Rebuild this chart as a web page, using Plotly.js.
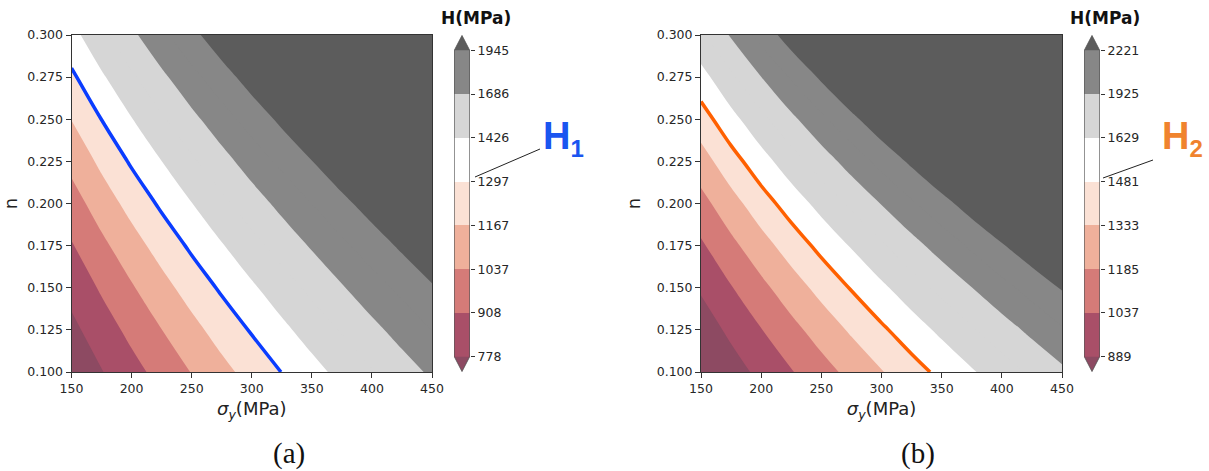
<!DOCTYPE html>
<html>
<head>
<meta charset="utf-8">
<script src="https://cdn.plot.ly/plotly-3.0.1.min.js"></script>
<style>html,body{margin:0;padding:0;background:#fff;}#chart{width:1209px;height:471px;}</style>
</head>
<body>
<div id="chart"></div>
<script>
// ---- data ----
const sigmaY = [150, 175, 200, 225, 250, 275, 300, 325, 350, 375, 400, 425, 450];   // σy (MPa)
const nVals  = [0.100, 0.125, 0.150, 0.175, 0.200, 0.225, 0.250, 0.275, 0.300];
// H1 (MPa), rows = n, columns = σy
const hardnessA = [
  [ 678,  772,  863,  953, 1042, 1129, 1214, 1299, 1382, 1465, 1547, 1628, 1708],
  [ 746,  845,  942, 1036, 1128, 1219, 1308, 1396, 1482, 1567, 1651, 1734, 1817],
  [ 819,  924, 1025, 1124, 1221, 1315, 1407, 1498, 1587, 1675, 1762, 1847, 1932],
  [ 898, 1008, 1115, 1218, 1319, 1417, 1513, 1607, 1699, 1790, 1879, 1967, 2053],
  [ 982, 1099, 1211, 1319, 1423, 1525, 1625, 1722, 1817, 1911, 2002, 2092, 2181],
  [1073, 1195, 1313, 1425, 1535, 1640, 1744, 1844, 1942, 2038, 2133, 2225, 2316],
  [1170, 1298, 1421, 1539, 1652, 1762, 1869, 1973, 2074, 2173, 2270, 2365, 2458],
  [1273, 1408, 1536, 1659, 1777, 1891, 2002, 2109, 2214, 2316, 2415, 2513, 2608],
  [1383, 1524, 1658, 1786, 1909, 2027, 2142, 2253, 2361, 2466, 2568, 2668, 2766]
];
// H2 (MPa)
const hardnessB = [
  [ 719,  824,  927, 1028, 1128, 1227, 1325, 1422, 1518, 1614, 1708, 1802, 1895],
  [ 808,  921, 1032, 1141, 1248, 1353, 1457, 1560, 1661, 1761, 1861, 1959, 2057],
  [ 907, 1029, 1148, 1265, 1379, 1491, 1601, 1710, 1817, 1923, 2027, 2130, 2233],
  [1016, 1148, 1276, 1400, 1522, 1641, 1759, 1874, 1987, 2098, 2208, 2317, 2424],
  [1136, 1278, 1416, 1549, 1679, 1806, 1931, 2053, 2172, 2290, 2406, 2520, 2633],
  [1269, 1422, 1570, 1713, 1851, 1987, 2119, 2248, 2375, 2499, 2622, 2742, 2860],
  [1414, 1580, 1738, 1891, 2040, 2184, 2324, 2462, 2596, 2727, 2856, 2983, 3108],
  [1574, 1752, 1923, 2087, 2245, 2399, 2549, 2694, 2837, 2976, 3113, 3246, 3378],
  [1749, 1941, 2124, 2300, 2470, 2634, 2793, 2948, 3099, 3247, 3392, 3533, 3672]
];
const levelsA = [778, 908, 1037, 1167, 1297, 1426, 1686, 1945];
const levelsB = [889, 1037, 1185, 1333, 1481, 1629, 1925, 2221];
const levelIndex = [0, 1, 2, 3, 4, 5, 7, 9];   // position of each labelled level on the fine grid
const markedIdx = 4;                            // H1 / H2 contour level (1297 / 1481)
const bandColors = ['#8d4a62', '#a94f68', '#d57b78', '#efb09b', '#fbe1d5', '#ffffff',
                    '#d6d6d6', '#d6d6d6', '#878787', '#878787', '#5c5c5c'];
const markColorA = '#0a3cff', markColorB = '#ff6000';
const labelColorA = '#1a55f0', labelColorB = '#f0832e';

// ---- helpers ----
const W = 1209, H = 471;
const px = v => v / W, py = v => 1 - v / H;
const nFine = levelIndex[levelIndex.length - 1];
const colorscale = bandColors.map((c, i) => [i / (bandColors.length - 1), c]);

function contourTraces(z, levels, xa, ya, markColor) {
  const step = (levels[levels.length - 1] - levels[0]) / nFine;
  const mark = levels[0] + levelIndex[markedIdx] * step;
  return [
    {type: 'contour', x: sigmaY, y: nVals, z: z, xaxis: xa, yaxis: ya,
     autocontour: false,
     contours: {start: levels[0], end: levels[levels.length - 1] + step * 0.01, size: step,
                coloring: 'fill', showlines: false},
     colorscale: colorscale, showscale: false, line: {width: 0, smoothing: 1.3}, hoverinfo: 'skip'},
    {type: 'contour', x: sigmaY, y: nVals, z: z, xaxis: xa, yaxis: ya,
     autocontour: false,
     contours: {start: mark, end: mark + step * 0.5, size: step, coloring: 'none', showlines: true},
     line: {color: markColor, width: 3.5, smoothing: 1.3}, showscale: false, hoverinfo: 'skip'}
  ];
}

const EXT = 0.34;
function colorbarTraces(levels, xa, ya) {
  const nSeg = levels.length - 1;
  const segColors = [];
  for (let j = 0; j < nSeg; j++) segColors.push(bandColors[levelIndex[j] + 1]);
  return [
    {type: 'bar', x: new Array(nSeg).fill(0), y: new Array(nSeg).fill(1),
     base: [...Array(nSeg).keys()], width: 1, marker: {color: segColors, line: {width: 0}},
     xaxis: xa, yaxis: ya, hoverinfo: 'skip'},
    {type: 'scatter', mode: 'lines', x: [-0.5, 0, 0.5, -0.5], y: [nSeg, nSeg + EXT, nSeg, nSeg],
     fill: 'toself', fillcolor: bandColors[bandColors.length - 1], line: {width: 0},
     xaxis: xa, yaxis: ya, hoverinfo: 'skip'},
    {type: 'scatter', mode: 'lines', x: [-0.5, 0, 0.5, -0.5], y: [0, -EXT, 0, 0],
     fill: 'toself', fillcolor: bandColors[0], line: {width: 0},
     xaxis: xa, yaxis: ya, hoverinfo: 'skip'},
    {type: 'scatter', mode: 'lines',
     x: [-0.5, -0.5, 0, 0.5, 0.5, 0, -0.5], y: [0, nSeg, nSeg + EXT, nSeg, 0, -EXT, 0],
     line: {color: '#555', width: 0.8}, xaxis: xa, yaxis: ya, hoverinfo: 'skip'}
  ];
}

const data = [
  ...contourTraces(hardnessA, levelsA, 'x', 'y', markColorA),
  ...contourTraces(hardnessB, levelsB, 'x2', 'y2', markColorB),
  ...colorbarTraces(levelsA, 'x3', 'y3'),
  ...colorbarTraces(levelsB, 'x4', 'y4')
];

const tickFont = {family: 'DejaVu Sans', size: 12.5, color: '#262626'};
function mainX(domain, anchor) {
  return {domain: domain, anchor: anchor, range: [150, 450], tickmode: 'linear', tick0: 150, dtick: 50,
    ticks: 'outside', ticklen: 5, tickwidth: 1, tickcolor: '#333', showline: true, mirror: true,
    linecolor: '#333', linewidth: 1, showgrid: false, zeroline: false, tickfont: tickFont,
    title: {text: '<i>σ</i><sub><i>y</i></sub>(MPa)', font: {family: 'DejaVu Sans', size: 18, color: '#222'}, standoff: 7}};
}
function mainY(anchor) {
  return {domain: [py(372), py(35)], anchor: anchor, range: [0.1, 0.3], tickmode: 'linear', tick0: 0.1, dtick: 0.025,
    tickformat: '.3f', ticks: 'outside', ticklen: 5, tickwidth: 1, tickcolor: '#333', showline: true, mirror: true,
    linecolor: '#333', linewidth: 1, showgrid: false, zeroline: false, tickfont: tickFont,
    title: {text: 'n', font: {family: 'DejaVu Sans', size: 18, color: '#222'}, standoff: 11}};
}
function cbarX(domain, anchor) {
  return {domain: domain, anchor: anchor, range: [-0.52, 0.52], visible: false, fixedrange: true};
}
function cbarY(levels, anchor) {
  const nSeg = levels.length - 1;
  return {domain: [py(372), py(35)], anchor: anchor, side: 'right', range: [-EXT - 0.01, nSeg + EXT + 0.01],
    tickmode: 'array', tickvals: [...Array(levels.length).keys()], ticktext: levels.map(String),
    ticks: 'outside', ticklen: 4, tickwidth: 1, tickcolor: '#333', showgrid: false, zeroline: false,
    showline: false, tickfont: tickFont, fixedrange: true};
}

const layout = {
  width: W, height: H, margin: {l: 0, r: 0, t: 0, b: 0},
  paper_bgcolor: '#ffffff', plot_bgcolor: '#ffffff', showlegend: false,
  barmode: 'overlay', bargap: 0,
  font: {family: 'DejaVu Sans', color: '#262626'},
  xaxis: mainX([px(71.5), px(432)], 'y'),
  yaxis: mainY('x'),
  xaxis2: mainX([px(701), px(1062)], 'y2'),
  yaxis2: mainY('x2'),
  xaxis3: cbarX([px(454), px(470)], 'y3'),
  yaxis3: cbarY(levelsA, 'x3'),
  xaxis4: cbarX([px(1084), px(1100)], 'y4'),
  yaxis4: cbarY(levelsB, 'x4'),
  shapes: [
    {type: 'line', xref: 'paper', yref: 'paper', x0: px(475), y0: py(177), x1: px(540), y1: py(149),
     line: {color: '#222', width: 1}},
    {type: 'line', xref: 'paper', yref: 'paper', x0: px(1103), y0: py(178), x1: px(1153), y1: py(160),
     line: {color: '#222', width: 1}}
  ],
  annotations: [
    {text: '<b>H(MPa)</b>', xref: 'paper', yref: 'paper', x: px(476), y: py(18), xanchor: 'center', yanchor: 'middle',
     showarrow: false, font: {family: 'DejaVu Sans', size: 17, color: '#111'}},
    {text: '<b>H(MPa)</b>', xref: 'paper', yref: 'paper', x: px(1105), y: py(18), xanchor: 'center', yanchor: 'middle',
     showarrow: false, font: {family: 'DejaVu Sans', size: 17, color: '#111'}},
    {text: '<b>H<sub><span style="font-size:24px">1</span></sub></b>', xref: 'paper', yref: 'paper', x: px(541), y: py(139), xanchor: 'left', yanchor: 'middle',
     showarrow: false, font: {family: 'Liberation Sans', size: 38, color: labelColorA}},
    {text: '<b>H<sub><span style="font-size:24px">2</span></sub></b>', xref: 'paper', yref: 'paper', x: px(1160), y: py(139), xanchor: 'left', yanchor: 'middle',
     showarrow: false, font: {family: 'Liberation Sans', size: 38, color: labelColorB}},
    {text: '(a)', xref: 'paper', yref: 'paper', x: px(289), y: py(453), xanchor: 'center', yanchor: 'middle',
     showarrow: false, font: {family: 'Liberation Serif', size: 29, color: '#111'}},
    {text: '(b)', xref: 'paper', yref: 'paper', x: px(918), y: py(453), xanchor: 'center', yanchor: 'middle',
     showarrow: false, font: {family: 'Liberation Serif', size: 29, color: '#111'}}
  ]
};

Plotly.newPlot('chart', data, layout, {displayModeBar: false, staticPlot: true});
</script>
</body>
</html>
